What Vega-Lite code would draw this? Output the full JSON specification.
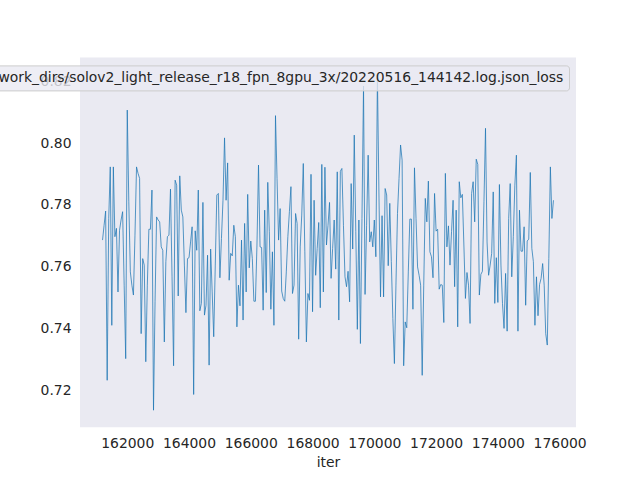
{
"$schema": "https://vega.github.io/schema/vega-lite/v6.json",
"width": 496,
"height": 369.6,
"autosize": {"type": "none"},
"padding": {"left": 80, "top": 57.6, "right": 64, "bottom": 52.8},
"background": "white",
"config": {"view": {"fill": "#EAEAF2", "stroke": null}, "font": "DejaVu Sans"},
"data": {"values": [
{"iter":161200,"loss":0.7686},{"iter":161250,"loss":0.7734},{"iter":161300,"loss":0.7780},{"iter":161350,"loss":0.7232},{"iter":161400,"loss":0.7756},{"iter":161450,"loss":0.7923},{"iter":161500,"loss":0.7410},{"iter":161550,"loss":0.7923},{"iter":161600,"loss":0.7697},{"iter":161650,"loss":0.7724},
{"iter":161700,"loss":0.7518},{"iter":161750,"loss":0.7718},{"iter":161800,"loss":0.7751},{"iter":161850,"loss":0.7778},{"iter":161900,"loss":0.7540},{"iter":161950,"loss":0.7302},{"iter":162000,"loss":0.8107},{"iter":162050,"loss":0.7810},{"iter":162100,"loss":0.7583},{"iter":162150,"loss":0.7540},
{"iter":162200,"loss":0.7508},{"iter":162250,"loss":0.7702},{"iter":162300,"loss":0.7923},{"iter":162350,"loss":0.7902},{"iter":162400,"loss":0.7886},{"iter":162450,"loss":0.7383},{"iter":162500,"loss":0.7626},{"iter":162550,"loss":0.7605},{"iter":162600,"loss":0.7292},{"iter":162650,"loss":0.7540},
{"iter":162700,"loss":0.7721},{"iter":162750,"loss":0.7721},{"iter":162800,"loss":0.7848},{"iter":162850,"loss":0.7135},{"iter":162900,"loss":0.7486},{"iter":162950,"loss":0.7761},{"iter":163000,"loss":0.7751},{"iter":163050,"loss":0.7745},{"iter":163100,"loss":0.7664},{"iter":163150,"loss":0.7653},
{"iter":163200,"loss":0.7356},{"iter":163250,"loss":0.7616},{"iter":163300,"loss":0.7697},{"iter":163350,"loss":0.7702},{"iter":163400,"loss":0.7851},{"iter":163450,"loss":0.7567},{"iter":163500,"loss":0.7279},{"iter":163550,"loss":0.7880},{"iter":163600,"loss":0.7864},{"iter":163650,"loss":0.7505},
{"iter":163700,"loss":0.7894},{"iter":163750,"loss":0.7783},{"iter":163800,"loss":0.7761},{"iter":163850,"loss":0.7605},{"iter":163900,"loss":0.7451},{"iter":163950,"loss":0.7626},{"iter":164000,"loss":0.7629},{"iter":164050,"loss":0.7680},{"iter":164100,"loss":0.7729},{"iter":164150,"loss":0.7186},
{"iter":164200,"loss":0.7716},{"iter":164250,"loss":0.7653},{"iter":164300,"loss":0.7848},{"iter":164350,"loss":0.7457},{"iter":164400,"loss":0.7481},{"iter":164450,"loss":0.7808},{"iter":164500,"loss":0.7443},{"iter":164550,"loss":0.7475},{"iter":164600,"loss":0.7637},{"iter":164650,"loss":0.7281},
{"iter":164700,"loss":0.7657},{"iter":164750,"loss":0.7518},{"iter":164800,"loss":0.7373},{"iter":164850,"loss":0.7605},{"iter":164900,"loss":0.7832},{"iter":164950,"loss":0.7837},{"iter":165000,"loss":0.7564},{"iter":165050,"loss":0.7691},{"iter":165100,"loss":0.7815},{"iter":165150,"loss":0.8017},
{"iter":165200,"loss":0.7815},{"iter":165250,"loss":0.7936},{"iter":165300,"loss":0.7556},{"iter":165350,"loss":0.7643},{"iter":165400,"loss":0.7635},{"iter":165450,"loss":0.7734},{"iter":165500,"loss":0.7697},{"iter":165550,"loss":0.7405},{"iter":165600,"loss":0.7540},{"iter":165650,"loss":0.7473},
{"iter":165700,"loss":0.7686},{"iter":165750,"loss":0.7427},{"iter":165800,"loss":0.7740},{"iter":165850,"loss":0.7518},{"iter":165900,"loss":0.7834},{"iter":165950,"loss":0.7596},{"iter":166000,"loss":0.7683},{"iter":166050,"loss":0.7626},{"iter":166100,"loss":0.7488},{"iter":166150,"loss":0.7488},
{"iter":166200,"loss":0.7670},{"iter":166250,"loss":0.7929},{"iter":166300,"loss":0.7664},{"iter":166350,"loss":0.7662},{"iter":166400,"loss":0.7459},{"iter":166450,"loss":0.7783},{"iter":166500,"loss":0.7516},{"iter":166550,"loss":0.7873},{"iter":166600,"loss":0.7713},{"iter":166650,"loss":0.7462},
{"iter":166700,"loss":0.7648},{"iter":166750,"loss":0.7410},{"iter":166800,"loss":0.8089},{"iter":166850,"loss":0.7886},{"iter":166900,"loss":0.7686},{"iter":166950,"loss":0.7788},{"iter":167000,"loss":0.7521},{"iter":167050,"loss":0.7497},{"iter":167100,"loss":0.7488},{"iter":167150,"loss":0.7583},
{"iter":167200,"loss":0.7697},{"iter":167250,"loss":0.7778},{"iter":167300,"loss":0.7859},{"iter":167350,"loss":0.7513},{"iter":167400,"loss":0.7540},{"iter":167450,"loss":0.7772},{"iter":167500,"loss":0.7740},{"iter":167550,"loss":0.7365},{"iter":167600,"loss":0.7664},{"iter":167650,"loss":0.7767},
{"iter":167700,"loss":0.7934},{"iter":167750,"loss":0.7648},{"iter":167800,"loss":0.7356},{"iter":167850,"loss":0.7513},{"iter":167900,"loss":0.7491},{"iter":167950,"loss":0.7899},{"iter":168000,"loss":0.7454},{"iter":168050,"loss":0.7815},{"iter":168100,"loss":0.7572},{"iter":168150,"loss":0.7659},
{"iter":168200,"loss":0.7743},{"iter":168250,"loss":0.7467},{"iter":168300,"loss":0.7931},{"iter":168350,"loss":0.7518},{"iter":168400,"loss":0.7922},{"iter":168450,"loss":0.7670},{"iter":168500,"loss":0.7734},{"iter":168550,"loss":0.7808},{"iter":168600,"loss":0.7562},{"iter":168650,"loss":0.7659},
{"iter":168700,"loss":0.7751},{"iter":168750,"loss":0.7592},{"iter":168800,"loss":0.7907},{"iter":168850,"loss":0.7427},{"iter":168900,"loss":0.7909},{"iter":168950,"loss":0.7918},{"iter":169000,"loss":0.7734},{"iter":169050,"loss":0.7567},{"iter":169100,"loss":0.7535},{"iter":169150,"loss":0.7585},
{"iter":169200,"loss":0.7486},{"iter":169250,"loss":0.7869},{"iter":169300,"loss":0.7657},{"iter":169350,"loss":0.8026},{"iter":169400,"loss":0.7713},{"iter":169450,"loss":0.7397},{"iter":169500,"loss":0.7751},{"iter":169550,"loss":0.7351},{"iter":169600,"loss":0.7756},{"iter":169650,"loss":0.8185},
{"iter":169700,"loss":0.7510},{"iter":169750,"loss":0.7734},{"iter":169800,"loss":0.7961},{"iter":169850,"loss":0.7680},{"iter":169900,"loss":0.7713},{"iter":169950,"loss":0.7664},{"iter":170000,"loss":0.7751},{"iter":170050,"loss":0.7632},{"iter":170100,"loss":0.8220},{"iter":170150,"loss":0.7832},
{"iter":170200,"loss":0.7502},{"iter":170250,"loss":0.7765},{"iter":170300,"loss":0.7502},{"iter":170350,"loss":0.7853},{"iter":170400,"loss":0.7832},{"iter":170450,"loss":0.7603},{"iter":170500,"loss":0.7805},{"iter":170550,"loss":0.7616},{"iter":170600,"loss":0.7432},{"iter":170650,"loss":0.7286},
{"iter":170700,"loss":0.7540},{"iter":170750,"loss":0.7772},{"iter":170800,"loss":0.7886},{"iter":170850,"loss":0.7994},{"iter":170900,"loss":0.7945},{"iter":170950,"loss":0.7279},{"iter":171000,"loss":0.7421},{"iter":171050,"loss":0.7402},{"iter":171100,"loss":0.7583},{"iter":171150,"loss":0.7754},
{"iter":171200,"loss":0.7754},{"iter":171250,"loss":0.7462},{"iter":171300,"loss":0.7920},{"iter":171350,"loss":0.7756},{"iter":171400,"loss":0.7599},{"iter":171450,"loss":0.7572},{"iter":171500,"loss":0.7540},{"iter":171550,"loss":0.7248},{"iter":171600,"loss":0.7540},{"iter":171650,"loss":0.7821},
{"iter":171700,"loss":0.7745},{"iter":171750,"loss":0.7877},{"iter":171800,"loss":0.7648},{"iter":171850,"loss":0.7632},{"iter":171900,"loss":0.7564},{"iter":171950,"loss":0.7837},{"iter":172000,"loss":0.7715},{"iter":172050,"loss":0.7721},{"iter":172100,"loss":0.7527},{"iter":172150,"loss":0.7542},
{"iter":172200,"loss":0.7540},{"iter":172250,"loss":0.7419},{"iter":172300,"loss":0.7902},{"iter":172350,"loss":0.7664},{"iter":172400,"loss":0.7732},{"iter":172450,"loss":0.7605},{"iter":172500,"loss":0.7713},{"iter":172550,"loss":0.7815},{"iter":172600,"loss":0.7535},{"iter":172650,"loss":0.7783},
{"iter":172700,"loss":0.7405},{"iter":172750,"loss":0.7875},{"iter":172800,"loss":0.7823},{"iter":172850,"loss":0.7834},{"iter":172900,"loss":0.7670},{"iter":172950,"loss":0.7497},{"iter":173000,"loss":0.7581},{"iter":173050,"loss":0.7540},{"iter":173100,"loss":0.7416},{"iter":173150,"loss":0.7837},
{"iter":173200,"loss":0.7875},{"iter":173250,"loss":0.7745},{"iter":173300,"loss":0.7948},{"iter":173350,"loss":0.7931},{"iter":173400,"loss":0.7508},{"iter":173450,"loss":0.7575},{"iter":173500,"loss":0.7585},{"iter":173550,"loss":0.7810},{"iter":173600,"loss":0.8048},{"iter":173650,"loss":0.7680},
{"iter":173700,"loss":0.7572},{"iter":173750,"loss":0.7605},{"iter":173800,"loss":0.7643},{"iter":173850,"loss":0.7842},{"iter":173900,"loss":0.7481},{"iter":173950,"loss":0.7629},{"iter":174000,"loss":0.7484},{"iter":174050,"loss":0.7866},{"iter":174100,"loss":0.7605},{"iter":174150,"loss":0.7481},
{"iter":174200,"loss":0.7400},{"iter":174250,"loss":0.7578},{"iter":174300,"loss":0.7391},{"iter":174350,"loss":0.7756},{"iter":174400,"loss":0.7869},{"iter":174450,"loss":0.7567},{"iter":174500,"loss":0.7697},{"iter":174550,"loss":0.7864},{"iter":174600,"loss":0.7961},{"iter":174650,"loss":0.7391},
{"iter":174700,"loss":0.7783},{"iter":174750,"loss":0.7650},{"iter":174800,"loss":0.7650},{"iter":174850,"loss":0.7729},{"iter":174900,"loss":0.7475},{"iter":174950,"loss":0.7683},{"iter":175000,"loss":0.7689},{"iter":175050,"loss":0.7905},{"iter":175100,"loss":0.7659},{"iter":175150,"loss":0.7616},
{"iter":175200,"loss":0.7410},{"iter":175250,"loss":0.7567},{"iter":175300,"loss":0.7441},{"iter":175350,"loss":0.7542},{"iter":175400,"loss":0.7562},{"iter":175450,"loss":0.7610},{"iter":175500,"loss":0.7540},{"iter":175550,"loss":0.7383},{"iter":175600,"loss":0.7346},{"iter":175650,"loss":0.7626},
{"iter":175700,"loss":0.7923},{"iter":175750,"loss":0.7756},{"iter":175800,"loss":0.7815}
]},
"mark": {"type": "line", "strokeWidth": 0.75},
"encoding": {
  "x": {"field": "iter", "type": "quantitative",
    "scale": {"domain": [160470, 176530], "nice": false, "zero": false},
    "axis": {"title": "iter", "format": "d", "values": [162000,164000,166000,168000,170000,172000,174000,176000],
      "grid": false, "domain": false, "ticks": false, "labelPadding": 9, "labelFontSize": 13.9, "labelColor": "#262626",
      "titleFontSize": 13.9, "titleFontWeight": "normal", "titleColor": "#262626", "titlePadding": 5, "labelFlush": false}},
  "y": {"field": "loss", "type": "quantitative",
    "scale": {"domain": [0.708, 0.8277], "nice": false, "zero": false},
    "axis": {"title": null, "format": ".2f", "values": [0.72,0.74,0.76,0.78,0.8,0.82],
      "grid": false, "domain": false, "ticks": false, "labelPadding": 9, "labelFontSize": 13.9, "labelColor": "#262626", "labelFlush": false}},
  "color": {"datum": "work_dirs/solov2_light_release_r18_fpn_8gpu_3x/20220516_144142.log.json_loss", "type": "nominal",
    "scale": {"range": ["#1f77b4"]},
    "legend": {"title": null, "orient": "none", "legendX": -112, "legendY": 7.8, "padding": 5.4,
      "fillColor": "rgba(234,234,242,0.8)", "strokeColor": "#cccccc", "cornerRadius": 3,
      "symbolType": "stroke", "symbolSize": 100, "symbolStrokeWidth": 1, "labelOffset": 11.1,
      "labelFontSize": 13.9, "labelColor": "#262626", "labelLimit": 2000}}
}
}
